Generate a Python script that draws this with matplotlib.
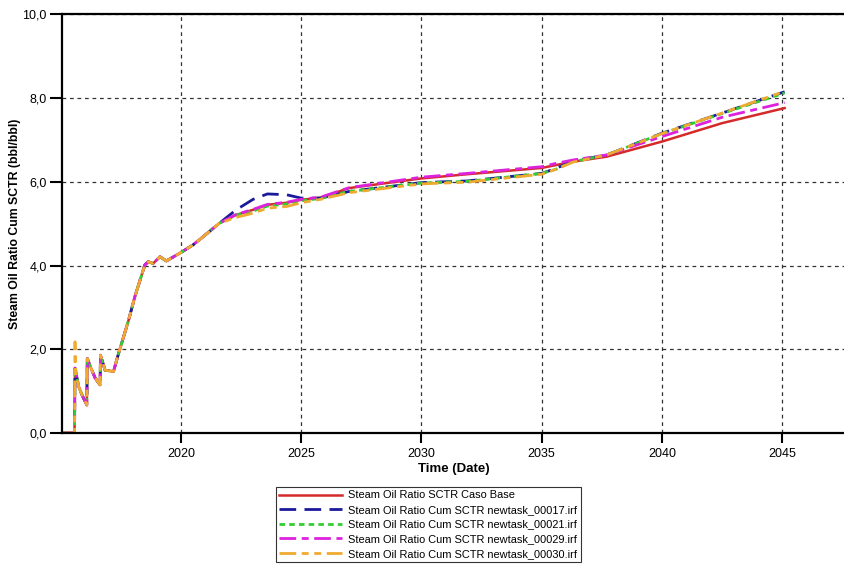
import matplotlib
matplotlib.use("Agg")
import matplotlib.pyplot as plt
from matplotlib.ticker import FuncFormatter

plt.rcParams['font.family'] = ['Liberation Sans', 'DejaVu Sans']

# shared early history (all runs identical)
early_years = [2015.10, 2015.58, 2015.60, 2015.75, 2015.89, 2016.09, 2016.11, 2016.30,
               2016.44, 2016.64, 2016.66, 2016.85, 2017.20, 2017.41, 2017.83, 2018.09,
               2018.50, 2018.64, 2018.85, 2019.13, 2019.40, 2020.00, 2020.50, 2020.93,
               2021.60]
early_sor = [0.0, 0.0, 1.55, 1.11, 0.91, 0.67, 1.78, 1.50,
             1.31, 1.15, 1.86, 1.50, 1.47, 1.90, 2.70, 3.26,
             4.01, 4.09, 4.05, 4.21, 4.11, 4.31, 4.49, 4.69,
             5.01]

late_years = [2022.3, 2023.0, 2023.6, 2024.4, 2025.0, 2025.8, 2027.0, 2030.0,
              2031.9, 2035.0, 2035.6, 2036.3, 2037.7, 2040.0, 2042.5, 2045.1]

base_late = [5.21, 5.33, 5.45, 5.50, 5.57, 5.62, 5.85, 6.08,
             6.18, 6.33, 6.40, 6.48, 6.60, 6.96, 7.40, 7.76]
run17_late = [5.33, 5.58, 5.71, 5.69, 5.61, 5.61, 5.77, 5.98,
              6.02, 6.20, 6.32, 6.50, 6.64, 7.16, 7.64, 8.15]
run21_late = [5.20, 5.30, 5.42, 5.47, 5.55, 5.60, 5.77, 5.97,
              6.01, 6.20, 6.30, 6.48, 6.64, 7.15, 7.63, 8.12]
run29_late = [5.22, 5.34, 5.46, 5.51, 5.58, 5.63, 5.86, 6.11,
              6.20, 6.36, 6.44, 6.52, 6.64, 7.08, 7.54, 7.89]
run30_late = [5.15, 5.25, 5.37, 5.41, 5.50, 5.58, 5.74, 5.95,
              5.99, 6.18, 6.30, 6.47, 6.64, 7.15, 7.64, 8.16]

# run 30 has a higher first spike
run30_spike_years = [2015.60, 2015.62]
run30_spike_sor = [2.18, 1.55]

labels = ["Steam Oil Ratio SCTR Caso Base",
          "Steam Oil Ratio Cum SCTR newtask_00017.irf",
          "Steam Oil Ratio Cum SCTR newtask_00021.irf",
          "Steam Oil Ratio Cum SCTR newtask_00029.irf",
          "Steam Oil Ratio Cum SCTR newtask_00030.irf"]
y_ticks = [0, 2, 4, 6, 8, 10]
x_ticks = [2020, 2025, 2030, 2035, 2040, 2045]

fig = plt.figure(figsize=(8.45, 5.67), dpi=100)
ax = fig.add_axes([0.0734, 0.2363, 0.9266, 0.7385])

x_common = early_years + late_years
series = [
    (x_common, early_sor + base_late, dict(color='#d42a2a', lw=1.8, ls='-')),
    (x_common, early_sor + run17_late, dict(color='#1a1a9a', lw=2.0, ls=(0, (6, 3)))),
    (x_common, early_sor + run21_late, dict(color='#33cc33', lw=2.0, ls=(0, (2, 1.5)))),
    (x_common, early_sor + run29_late, dict(color='#dd22dd', lw=2.0, ls=(0, (6, 2, 2.5, 2)))),
    (early_years[:2] + run30_spike_years + early_years[3:] + late_years,
     early_sor[:2] + run30_spike_sor + early_sor[3:] + run30_late,
     dict(color='#f0aa30', lw=2.0, ls=(0, (6, 2, 2.5, 2, 2.5, 2)))),
]
for (xs, ys, st), lab in zip(series, labels):
    ax.plot(xs, ys, label=lab, **st)

ax.set_xlim(2015.06, 2047.61)
ax.set_ylim(0, 10)
ax.set_xticks(x_ticks)
ax.set_yticks(y_ticks)
ax.yaxis.set_major_formatter(FuncFormatter(lambda v, p: f"{v:.1f}".replace('.', ',')))
ax.grid(True, color='#333333', ls=(0, (3, 3)), lw=0.9)
for s in ['left', 'bottom', 'top']:
    ax.spines[s].set_linewidth(1.6)
    ax.spines[s].set_color('black')
ax.spines['right'].set_visible(False)
ax.tick_params(axis='both', direction='out', width=1.5, labelsize=9, colors='black')
ax.tick_params(axis='y', length=9, pad=2)
ax.tick_params(axis='x', length=7, pad=4)
ax.set_xlabel("Time (Date)", fontsize=9.5, fontweight='bold', labelpad=2)
ax.set_ylabel("Steam Oil Ratio Cum SCTR (bbl/bbl)", fontsize=8.8, fontweight='bold')
ax.yaxis.set_label_coords(-0.052, 0.5)

leg = fig.legend(loc='upper center', bbox_to_anchor=(0.507, 0.141), fontsize=7.9,
                 handlelength=5.7, labelspacing=0.42, frameon=True, fancybox=False,
                 borderpad=0.3, handletextpad=0.6, borderaxespad=0)
leg.get_frame().set_edgecolor('black')
leg.get_frame().set_linewidth(0.8)

fig.savefig("out.png", dpi=100)
